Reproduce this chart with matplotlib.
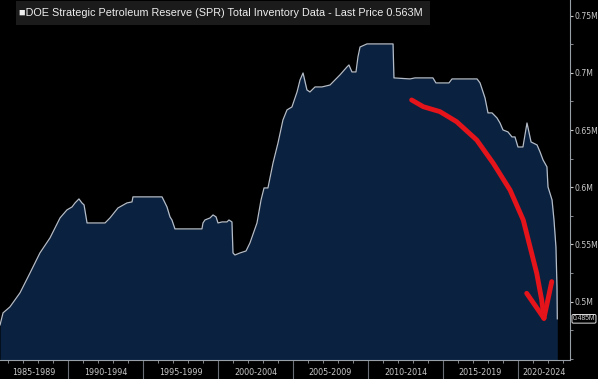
import numpy as np
import matplotlib.pyplot as plt
from matplotlib.ticker import MultipleLocator, FuncFormatter
from matplotlib.patches import Rectangle
import matplotlib.transforms as mtransforms

# SPR total inventory
years = [1985.47, 1985.67, 1986.13, 1986.80, 1987.47, 1988.13, 1988.80, 1989.47, 1989.93,
         1990.27, 1990.47, 1990.73, 1990.93, 1991.07, 1991.27, 1992.47, 1992.80, 1993.33,
         1993.93, 1994.27, 1994.33, 1996.27, 1996.60, 1996.80, 1996.93, 1997.13, 1998.93,
         1999.00, 1999.13, 1999.47, 1999.67, 1999.87, 2000.00, 2000.27, 2000.60, 2000.73,
         2000.93, 2001.00, 2001.13, 2001.47, 2001.87, 2002.13, 2002.60, 2002.87, 2003.07,
         2003.33, 2003.67, 2004.00, 2004.33, 2004.60, 2004.93, 2005.27, 2005.47, 2005.67,
         2005.93, 2006.13, 2006.47, 2006.93, 2007.47, 2007.80, 2008.13, 2008.60, 2008.73,
         2008.93, 2009.20, 2009.33, 2009.47, 2009.93, 2011.67, 2011.73, 2012.80, 2013.13,
         2014.33, 2014.53, 2015.40, 2015.60, 2017.27, 2017.47, 2017.80, 2018.00, 2018.27,
         2018.60, 2018.80, 2019.00, 2019.33, 2019.60, 2019.80, 2020.00, 2020.33, 2020.60,
         2020.87, 2021.27, 2021.47, 2021.67, 2021.93, 2022.00, 2022.27, 2022.40, 2022.53,
         2022.60, 2022.62]
inventory = [0.4797, 0.4902, 0.4954, 0.5077, 0.5251, 0.5426, 0.5557, 0.5732, 0.5802,
             0.5828, 0.5863, 0.5898, 0.5863, 0.5846, 0.5688, 0.5688, 0.5732, 0.5819,
             0.5863, 0.5872, 0.5916, 0.5916, 0.5828, 0.5741, 0.5714, 0.5636, 0.5636,
             0.5688, 0.5714, 0.5732, 0.5758, 0.5741, 0.5688, 0.5697, 0.5697, 0.5714,
             0.5697, 0.5426, 0.5408, 0.5426, 0.5443, 0.5513, 0.5688, 0.5889, 0.5994,
             0.5994, 0.6213, 0.6387, 0.6588, 0.6676, 0.6702, 0.6833, 0.6938, 0.6999,
             0.6851, 0.6833, 0.6877, 0.6877, 0.6894, 0.6938, 0.6982, 0.7052, 0.7069,
             0.7008, 0.7008, 0.7139, 0.7226, 0.7253, 0.7253, 0.6956, 0.6947, 0.6956,
             0.6956, 0.6912, 0.6912, 0.6947, 0.6947, 0.6912, 0.6781, 0.6650, 0.6650,
             0.6606, 0.6562, 0.6501, 0.6484, 0.6440, 0.6440, 0.6352, 0.6352, 0.6562,
             0.6396, 0.6370, 0.6309, 0.6239, 0.6178, 0.6003, 0.5889, 0.5714, 0.5478,
             0.5129, 0.485]
last_value = 0.485

y_labels_at = [0.5, 0.55, 0.6, 0.65, 0.7, 0.75]

period_starts = [1985, 1990, 1995, 2000, 2005, 2010, 2015, 2020, 2025]
period_labels = ['1985-1989', '1990-1994', '1995-1999', '2000-2004',
                 '2005-2009', '2010-2014', '2015-2019', '2020-2024']

# hand-drawn red arrow
arrow_years = [2012.91, 2013.69, 2014.80, 2015.91, 2017.25, 2018.35, 2019.47,
               2020.35, 2020.80, 2021.25, 2021.58, 2021.73]
arrow_vals = [0.6763, 0.6704, 0.6661, 0.6573, 0.6413, 0.6210, 0.5976,
              0.5714, 0.5481, 0.5248, 0.5015, 0.4855]
head_left = (2020.58, 0.5073)
head_right = (2022.25, 0.5175)

title = '\u25a0DOE Strategic Petroleum Reserve (SPR) Total Inventory Data - Last Price 0.563M'

xmin, xmax = 1985.467, 2023.467
ymin, ymax = 0.449, 0.7637

fig = plt.figure(figsize=(5.98, 3.79), dpi=100, facecolor='black')
ax = fig.add_axes([0, 19 / 379, 570 / 598, 360 / 379])
ax.set_facecolor('black')

ax.fill_between(years, inventory, ymin, color='#0a2240', lw=0)
ax.plot(years, inventory, color='#b4bcc8', lw=0.9)

ax.set_xlim(xmin, xmax)
ax.set_ylim(ymin, ymax)

for s in ['left', 'top']:
    ax.spines[s].set_visible(False)
for s in ['right', 'bottom']:
    ax.spines[s].set_color('#9aa0a8')
    ax.spines[s].set_linewidth(0.8)

# y axis on the right
ax.yaxis.tick_right()
ax.set_yticks(y_labels_at)
ax.yaxis.set_minor_locator(MultipleLocator(0.025))
ax.yaxis.set_major_formatter(FuncFormatter(lambda v, p: f'{v:g}M'))
ax.tick_params(axis='y', which='major', colors='#c8c8c8', labelsize=5.6,
               length=2, width=0.8, pad=1)
ax.tick_params(axis='y', which='minor', colors='#9aa0a8', length=2, width=0.6)

# x axis: period separators and yearly ticks
ax.set_xticks(period_starts[1:-1])
ax.set_xticklabels([])
ax.xaxis.set_minor_locator(MultipleLocator(1))
ax.tick_params(axis='x', which='major', colors='#6a6f77', length=14, width=0.8)
ax.tick_params(axis='x', which='minor', colors='#9aa0a8', length=2, width=0.6)

trans = mtransforms.blended_transform_factory(ax.transData, ax.transAxes)
for i, lab in enumerate(period_labels):
    a = max(period_starts[i], xmin)
    b = min(period_starts[i + 1], xmax)
    ax.text((a + b) / 2, -0.036, lab, transform=trans, ha='center', va='center',
            color='#c8c8c8', fontsize=5.8, clip_on=False)

# last value tag (x in axes fraction, y in data)
trans_y = mtransforms.blended_transform_factory(ax.transAxes, ax.transData)
ax.annotate(f'{last_value}M', xy=(1, last_value), xycoords=trans_y,
            xytext=(2, 0), textcoords='offset points', ha='left', va='center',
            color='#d0d0d0', fontsize=4.9, family='Liberation Sans',
            annotation_clip=False,
            bbox=dict(boxstyle='round,pad=0.12,rounding_size=0.2', fc='black',
                      ec='#e0e0e0', lw=0.7))

# red arrow
ax.plot(arrow_years, arrow_vals, color='#e5141b', lw=3.5, solid_capstyle='round',
        solid_joinstyle='round')
tip = (arrow_years[-1], arrow_vals[-1])
for hx, hy in [head_left, head_right]:
    ax.plot([hx, tip[0]], [hy, tip[1]], color='#e5141b', lw=3.5,
            solid_capstyle='round')

# title box
fig.patches.append(Rectangle((16 / 598, 1 - 25 / 379), 414 / 598, 24 / 379,
                             transform=fig.transFigure, facecolor='#1b1b1b',
                             edgecolor='none', zorder=5))
fig.text(19 / 598, 1 - 13 / 379, title, color='#eeeeee', fontsize=7.85,
         family='Liberation Sans', ha='left', va='center', zorder=6)

fig.savefig('out.png', dpi=100, facecolor='black')
